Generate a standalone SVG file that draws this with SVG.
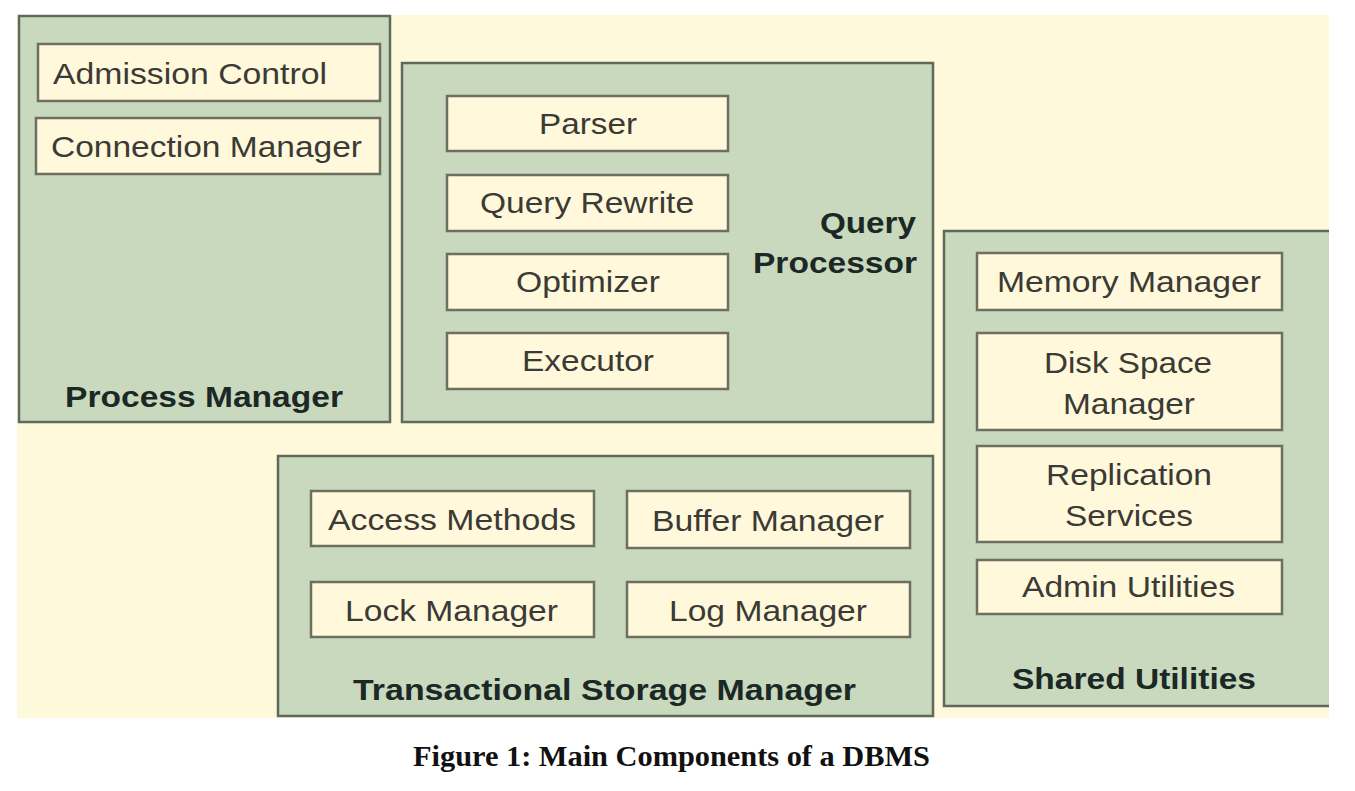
<svg xmlns="http://www.w3.org/2000/svg" width="1355" height="791" viewBox="0 0 1355 791">
<style>
.bg{fill:#fff9dc}
.grp{fill:#c8d9bd;stroke:#5f6a5c;stroke-width:2.5}
.box{fill:#fff8da;stroke:#6c6f62;stroke-width:2.5}
.lbl{font-family:"Liberation Sans",Arial,sans-serif;font-size:29px;fill:#3a3a36}
.ttl{font-family:"Liberation Sans",Arial,sans-serif;font-size:29px;font-weight:bold;fill:#1c2826}
.cap{font-family:"Liberation Serif","Times New Roman",serif;font-size:30px;font-weight:bold;fill:#111}
</style>
<rect x="0" y="0" width="1355" height="791" fill="#ffffff"/>
<rect class="bg" x="17" y="15" width="1312" height="703"/>

<g id="process-manager">
<rect class="grp" x="19" y="16" width="371" height="406"/>
<g id="admission-control"><rect class="box" x="38" y="44" width="342" height="57"/>
<text class="lbl" x="53" y="84" textLength="274" lengthAdjust="spacingAndGlyphs">Admission Control</text></g>
<g id="connection-manager"><rect class="box" x="36" y="118" width="344" height="56"/>
<text class="lbl" x="51" y="157" textLength="311" lengthAdjust="spacingAndGlyphs">Connection Manager</text></g>
<text class="ttl" x="65" y="407" textLength="278" lengthAdjust="spacingAndGlyphs">Process Manager</text>
</g>

<g id="query-processor">
<rect class="grp" x="402" y="63" width="531" height="359"/>
<g id="parser"><rect class="box" x="447" y="96" width="281" height="55"/>
<text class="lbl" x="539" y="134" textLength="98" lengthAdjust="spacingAndGlyphs">Parser</text></g>
<g id="query-rewrite"><rect class="box" x="447" y="175" width="281" height="56"/>
<text class="lbl" x="480" y="213" textLength="214" lengthAdjust="spacingAndGlyphs">Query Rewrite</text></g>
<g id="optimizer"><rect class="box" x="447" y="254" width="281" height="56"/>
<text class="lbl" x="516" y="292" textLength="144" lengthAdjust="spacingAndGlyphs">Optimizer</text></g>
<g id="executor"><rect class="box" x="447" y="333" width="281" height="56"/>
<text class="lbl" x="522" y="371" textLength="132" lengthAdjust="spacingAndGlyphs">Executor</text></g>
<text class="ttl" x="820" y="233" textLength="96" lengthAdjust="spacingAndGlyphs">Query</text>
<text class="ttl" x="753" y="273" textLength="164" lengthAdjust="spacingAndGlyphs">Processor</text>
</g>

<g id="shared-utilities">
<rect x="944" y="231" width="385" height="475" fill="#c8d9bd"/>
<path d="M1329 231 H944 V706 H1329" fill="none" stroke="#5f6a5c" stroke-width="2.5"/>
<g id="memory-manager"><rect class="box" x="977" y="253" width="305" height="57"/>
<text class="lbl" x="997" y="292" textLength="264" lengthAdjust="spacingAndGlyphs">Memory Manager</text></g>
<g id="disk-space-manager"><rect class="box" x="977" y="333" width="305" height="97"/>
<text class="lbl" x="1044" y="373" textLength="168" lengthAdjust="spacingAndGlyphs">Disk Space</text>
<text class="lbl" x="1063" y="414" textLength="132" lengthAdjust="spacingAndGlyphs">Manager</text></g>
<g id="replication-services"><rect class="box" x="977" y="446" width="305" height="96"/>
<text class="lbl" x="1046" y="485" textLength="166" lengthAdjust="spacingAndGlyphs">Replication</text>
<text class="lbl" x="1065" y="526" textLength="128" lengthAdjust="spacingAndGlyphs">Services</text></g>
<g id="admin-utilities"><rect class="box" x="977" y="560" width="305" height="54"/>
<text class="lbl" x="1022" y="597" textLength="213" lengthAdjust="spacingAndGlyphs">Admin Utilities</text></g>
<text class="ttl" x="1012" y="689" textLength="244" lengthAdjust="spacingAndGlyphs">Shared Utilities</text>
</g>

<g id="transactional-storage-manager">
<rect class="grp" x="278" y="456" width="655" height="260"/>
<g id="access-methods"><rect class="box" x="311" y="491" width="283" height="55"/>
<text class="lbl" x="328" y="530" textLength="248" lengthAdjust="spacingAndGlyphs">Access Methods</text></g>
<g id="buffer-manager"><rect class="box" x="627" y="491" width="283" height="57"/>
<text class="lbl" x="652" y="531" textLength="232" lengthAdjust="spacingAndGlyphs">Buffer Manager</text></g>
<g id="lock-manager"><rect class="box" x="311" y="582" width="283" height="55"/>
<text class="lbl" x="345" y="621" textLength="213" lengthAdjust="spacingAndGlyphs">Lock Manager</text></g>
<g id="log-manager"><rect class="box" x="627" y="582" width="283" height="55"/>
<text class="lbl" x="669" y="621" textLength="198" lengthAdjust="spacingAndGlyphs">Log Manager</text></g>
<text class="ttl" x="353" y="700" textLength="503" lengthAdjust="spacingAndGlyphs">Transactional Storage Manager</text>
</g>

<g id="connectors"></g>

<text class="cap" x="413" y="766" textLength="517" lengthAdjust="spacingAndGlyphs">Figure 1: Main Components of a DBMS</text>
</svg>
